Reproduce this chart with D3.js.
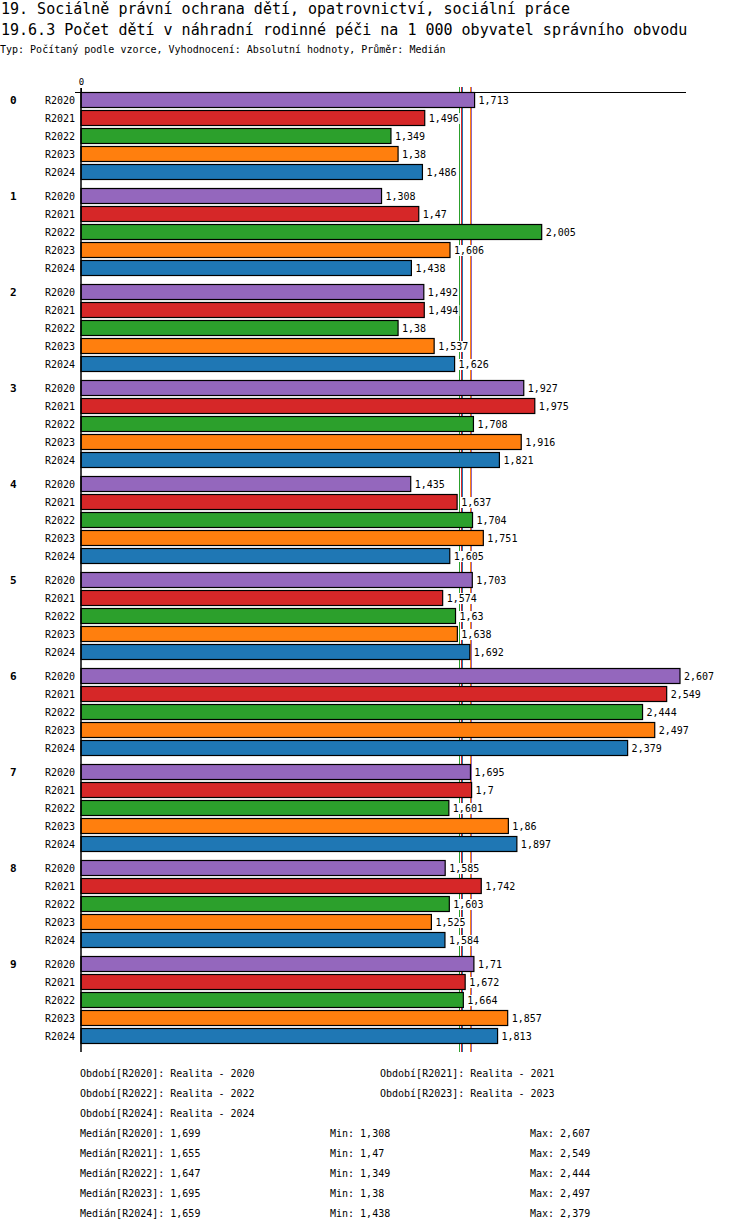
<!DOCTYPE html>
<html>
<head>
<meta charset="utf-8">
<script src="https://cdn.jsdelivr.net/npm/d3@7"></script>
<style>
  body { margin: 0; background: #fff; }
  svg text { font-family: "DejaVu Sans Mono", monospace; fill: #000; }
</style>
</head>
<body>
<div id="chart"></div>
<script>
// Values
var groups = ["0", "1", "2", "3", "4", "5", "6", "7", "8", "9"];
var seriesNames = ["R2020", "R2021", "R2022", "R2023", "R2024"];
var seriesColors = ["#9467bd", "#d62728", "#2ca02c", "#ff7f0e", "#1f77b4"];

var r2020 = [1.713, 1.308, 1.492, 1.927, 1.435, 1.703, 2.607, 1.695, 1.585, 1.71];
var r2021 = [1.496, 1.47, 1.494, 1.975, 1.637, 1.574, 2.549, 1.7, 1.742, 1.672];
var r2022 = [1.349, 2.005, 1.38, 1.708, 1.704, 1.63, 2.444, 1.601, 1.603, 1.664];
var r2023 = [1.38, 1.606, 1.537, 1.916, 1.751, 1.638, 2.497, 1.86, 1.525, 1.857];
var r2024 = [1.486, 1.438, 1.626, 1.821, 1.605, 1.692, 2.379, 1.897, 1.584, 1.813];
var medians = [1.699, 1.655, 1.647, 1.695, 1.659];
var periodLabels = ["Realita - 2020", "Realita - 2021", "Realita - 2022", "Realita - 2023", "Realita - 2024"];

var titleLines = [
  "19. Sociálně právní ochrana dětí, opatrovnictví, sociální práce",
  "19.6.3 Počet dětí v náhradní rodinné péči na 1 000 obyvatel správního obvodu"
];
var subtitle = "Typ: Počítaný podle vzorce, Vyhodnocení: Absolutní hodnoty, Průměr: Medián";

var seriesValues = [r2020, r2021, r2022, r2023, r2024];

var dims = { width: 750, height: 1232, plotTop: 92, plotBottom: 1052, left: 81 };

function fmt(v) { return String(v).replace(".", ","); }

var svg = d3.select("#chart").append("svg")
  .attr("width", dims.width)
  .attr("height", dims.height);

// titles
svg.selectAll("text.title")
  .data(titleLines)
  .enter().append("text")
  .attr("class", "title")
  .attr("x", 1)
  .attr("y", function(d, i) { return 14 + i * 21; })
  .style("font-size", "15px")
  .text(function(d) { return d; });

svg.append("text")
  .attr("x", 0)
  .attr("y", 53)
  .style("font-size", "10px")
  .text(subtitle);

// scales
var x = d3.scaleLinear()
  .domain([0, 2.607])
  .range([dims.left, 680]);

var yGroup = d3.scaleBand()
  .domain(groups)
  .range([dims.plotTop, dims.plotBottom]);

// 18px pitch per bar, 5 bars per group
var ySeries = d3.scaleBand()
  .domain(seriesNames)
  .range([-1, 89])
  .paddingInner(0.12)
  .paddingOuter(0.06);

// median lines (behind bars)
svg.append("g").selectAll("line")
  .data(medians)
  .enter().append("line")
  .attr("x1", function(d) { return Math.floor(x(d)) + 0.5; })
  .attr("x2", function(d) { return Math.floor(x(d)) + 0.5; })
  .attr("y1", dims.plotTop - 5)
  .attr("y2", dims.plotBottom)
  .attr("stroke", function(d, i) { return seriesColors[i]; })
  .attr("stroke-width", 1);

// bars
var rows = [];
groups.forEach(function(g, gi) {
  seriesNames.forEach(function(s, si) {
    rows.push({ group: g, series: s, si: si, value: seriesValues[si][gi] });
  });
});

var rowY = function(d) { return yGroup(d.group) + ySeries(d.series); };

svg.append("g").selectAll("rect")
  .data(rows)
  .enter().append("rect")
  .attr("x", x(0))
  .attr("y", function(d) { return Math.round(rowY(d)) + 0.5; })
  .attr("width", function(d) { return x(d.value) - x(0); })
  .attr("height", 15)
  .attr("fill", function(d) { return seriesColors[d.si]; })
  .attr("stroke", "#000")
  .attr("stroke-width", 1.2);

// value labels with white backing
var labels = svg.append("g").selectAll("g")
  .data(rows)
  .enter().append("g");

labels.append("text")
  .attr("x", function(d) { return x(d.value) + 4; })
  .attr("y", function(d) { return Math.round(rowY(d)) + 12; })
  .style("font-size", "10px")
  .text(function(d) { return fmt(d.value); });

labels.each(function() {
  var t = d3.select(this).select("text");
  var b = t.node().getBBox();
  d3.select(this).insert("rect", "text")
    .attr("x", b.x - 1)
    .attr("y", b.y)
    .attr("width", b.width + 2)
    .attr("height", b.height)
    .attr("fill", "#fff");
});

// series labels
svg.append("g").selectAll("text")
  .data(rows)
  .enter().append("text")
  .attr("x", 75)
  .attr("y", function(d) { return Math.round(rowY(d)) + 12; })
  .attr("text-anchor", "end")
  .style("font-size", "10px")
  .text(function(d) { return d.series; });

// group labels
svg.append("g").selectAll("text")
  .data(groups)
  .enter().append("text")
  .attr("x", 10)
  .attr("y", function(d) { return yGroup(d) + 12; })
  .style("font-size", "11px")
  .style("font-weight", "bold")
  .text(function(d) { return d; });

// axes
var axisTop = svg.append("g")
  .attr("transform", "translate(0," + dims.plotTop + ")")
  .call(d3.axisTop(x).tickValues([0]).tickSize(4).tickFormat(d3.format("d")));
axisTop.select(".domain").remove();
axisTop.selectAll("text").style("font-size", "9px").style("font-family", "DejaVu Sans Mono");

svg.append("line")
  .attr("x1", 75).attr("x2", 686)
  .attr("y1", dims.plotTop + 0.5).attr("y2", dims.plotTop + 0.5)
  .attr("stroke", "#000");

svg.append("line")
  .attr("x1", x(0)).attr("x2", x(0))
  .attr("y1", dims.plotTop - 4).attr("y2", dims.plotBottom)
  .attr("stroke", "#000")
  .attr("stroke-width", 1.5);

// legend: periods
var legend = svg.append("g").style("font-size", "10px");
legend.selectAll("text.period")
  .data(seriesNames)
  .enter().append("text")
  .attr("class", "period")
  .attr("x", function(d, i) { return i % 2 === 0 ? 80 : 380; })
  .attr("y", function(d, i) { return 1077 + Math.floor(i / 2) * 20; })
  .text(function(d, i) { return "Období[" + d + "]: " + periodLabels[i]; });

// legend: statistics
var statsTop = 1077 + 3 * 20;
seriesNames.forEach(function(s, i) {
  var yy = statsTop + i * 20;
  legend.append("text").attr("x", 80).attr("y", yy)
    .text("Medián[" + s + "]: " + fmt(medians[i]));
  legend.append("text").attr("x", 330).attr("y", yy)
    .text("Min: " + fmt(d3.min(seriesValues[i])));
  legend.append("text").attr("x", 530).attr("y", yy)
    .text("Max: " + fmt(d3.max(seriesValues[i])));
});
</script>
</body>
</html>
